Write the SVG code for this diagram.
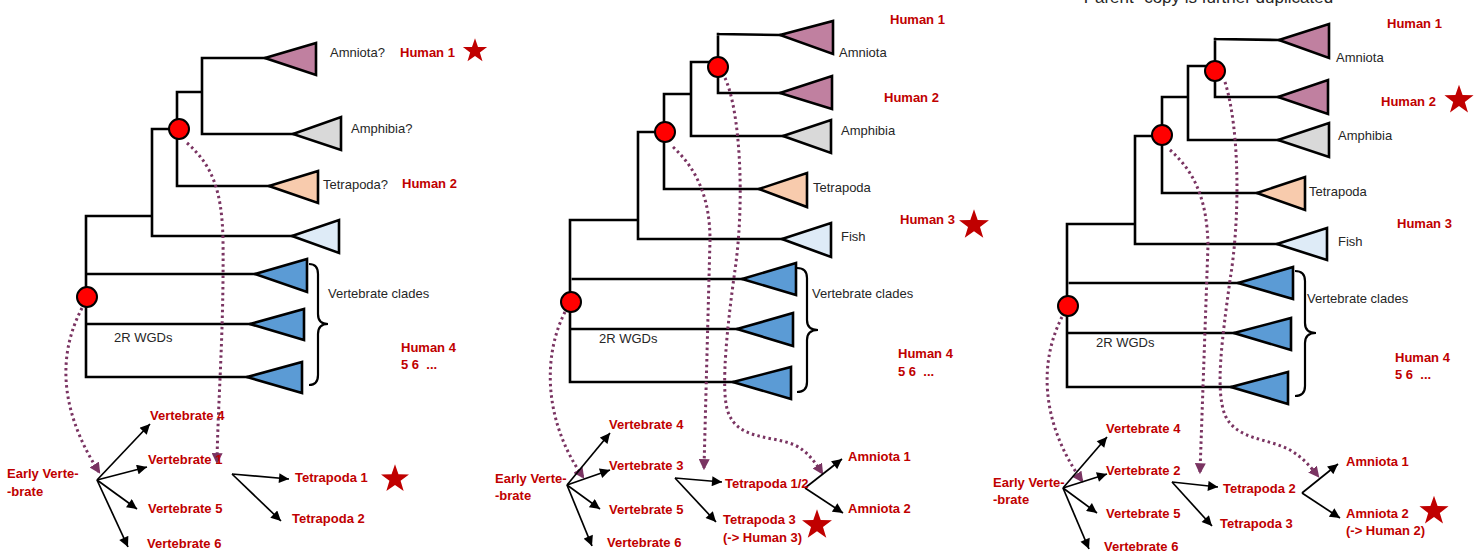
<svg xmlns="http://www.w3.org/2000/svg" width="1484" height="552" viewBox="0 0 1484 552">
<style>
.br{fill:none;stroke:#000;stroke-width:2.6;stroke-linecap:square}
.tri{stroke:#000;stroke-width:2.6;stroke-linejoin:miter}
.pk{fill:#c080a0}.gy{fill:#d9d9d9}.pc{fill:#f8cbad}.lb{fill:#deebf7}.bl{fill:#5b9bd5}
.dup{fill:#ff0000;stroke:#000;stroke-width:2}
.lbl{font-family:"Liberation Sans",Arial,sans-serif;font-size:13px;fill:#262626}
.red{font-family:"Liberation Sans",Arial,sans-serif;font-size:13px;font-weight:bold;fill:#c00000;white-space:pre}
.ttl{font-family:"Liberation Sans",Arial,sans-serif;font-size:17px;fill:#262626}
.brace{fill:none;stroke:#000;stroke-width:2.2}
.dot{fill:none;stroke:#7a3462;stroke-width:3;stroke-dasharray:2.5 3.2;marker-end:url(#pa)}
.arr{fill:none;stroke:#000;stroke-width:1.7;marker-end:url(#ba)}
.star{fill:#c00000}
</style>
<defs>
<marker id="ba" viewBox="0 0 10 10" refX="10" refY="5" markerWidth="11" markerHeight="10" markerUnits="userSpaceOnUse" orient="auto"><path d="M0,0 L10,5 L0,10 z" fill="#000"/></marker>
<marker id="pa" viewBox="0 0 10 10" refX="8" refY="5" markerWidth="11" markerHeight="11" markerUnits="userSpaceOnUse" orient="auto"><path d="M0,0 L10,5 L0,10 z" fill="#7a3462"/></marker>
<path id="st" d="M0,-15 L3.53,-4.85 L14.27,-4.64 L5.71,1.85 L8.82,12.14 L0,6 L-8.82,12.14 L-5.71,1.85 L-14.27,-4.64 L-3.53,-4.85 z"/>
</defs>
<rect width="1484" height="552" fill="#fff"/>

<text class="ttl" x="1078" y="3">“Parent” copy is further duplicated</text>

<g id="connectors">
<!-- panel 1 tree -->
<path class="br" d="M86,216 L86,377 M86,216 L152,216 M88,274 L255,274 M86,324 L250,324 M86,377 L247,377 M152,129 L152,236 M152,129 L170,129 M152,236 L292,236 M177,92 L177,186 M177,92 L202,92 M177,186 L269,186 M202,58 L202,134 M202,58 L265,58 M202,134 L293,134"/>
<!-- panel 2 tree -->
<path class="br" d="M570,220 L570,382 M570,220 L638,220 M573,279 L742,279 M570,329 L737,329 M570,382 L733,382 M638,132 L638,239 M638,132 L656,132 M638,239 L782,239 M664,94 L664,189 M664,94 L691,94 M664,189 L759,189 M691,62 L691,136 M691,62 L710,62 M691,136 L783,136 M718,34 L718,93 M718,34 L780,35 M718,93 L780,93"/>
<!-- panel 3 tree -->
<path class="br" d="M1067,224 L1067,387 M1067,224 L1135,224 M1070,283 L1238,283 M1067,333 L1234,333 M1067,387 L1231,387 M1135,136 L1135,244 M1135,136 L1152,136 M1135,244 L1277,244 M1162,97 L1162,193 M1162,97 L1188,97 M1162,193 L1257,193 M1188,66 L1188,140 M1188,66 L1205,66 M1188,140 L1278,140 M1215,39 L1215,97 M1215,39 L1279,40 M1215,97 L1278,97"/>
<!-- braces -->
<path class="brace" d="M309,264 Q318,264 318,274 L318,314 Q318,324 328,324 Q318,324 318,334 L318,375 Q318,385 309,385"/>
<path class="brace" d="M797,268 Q807,268 807,278 L807,320 Q807,330 818,330 Q807,330 807,340 L807,382 Q807,392 797,392"/>
<path class="brace" d="M1295,271 Q1305,271 1305,281 L1305,323 Q1305,333 1316,333 Q1305,333 1305,343 L1305,386 Q1305,396 1295,396"/>
<!-- dotted duplication links -->
<path class="dot" d="M187,143 C212,165 222,190 223,240 C224,330 218,400 217,462"/>
<path class="dot" d="M82,308 C60,350 56,405 99,472"/>
<path class="dot" d="M565,312 C543,355 543,420 583,477"/>
<path class="dot" d="M673,147 C698,170 710,200 710,240 L704,468"/>
<path class="dot" d="M725,78 C740,110 745,200 735,270 C728,320 720,390 728,412 C738,440 770,435 795,445 C808,452 815,462 822,473"/>
<path class="dot" d="M1062,317 C1040,360 1039,420 1082,481"/>
<path class="dot" d="M1170,150 C1195,172 1207,200 1208,245 L1200,472"/>
<path class="dot" d="M1225,82 C1240,130 1240,220 1230,280 C1222,340 1215,390 1225,415 C1236,440 1268,438 1290,450 C1302,457 1310,466 1318,476"/>
<!-- panel 1 arrows -->
<path class="arr" d="M97,480 L150,424"/>
<path class="arr" d="M97,480 L147,467"/>
<path class="arr" d="M97,480 L137,509"/>
<path class="arr" d="M97,480 L128,547"/>
<path class="arr" d="M232,474 L289,479"/>
<path class="arr" d="M232,474 L281,521"/>
<!-- panel 2 arrows -->
<path class="arr" d="M567,485 L610,433"/>
<path class="arr" d="M567,485 L610,470"/>
<path class="arr" d="M567,485 L600,509"/>
<path class="arr" d="M567,485 L592,546"/>
<path class="arr" d="M675,478 L722,482"/>
<path class="arr" d="M675,478 L716,522"/>
<path class="arr" d="M805,488 L842,459"/>
<path class="arr" d="M805,488 L843,513"/>
<!-- panel 3 arrows -->
<path class="arr" d="M1063,488 L1107,437"/>
<path class="arr" d="M1063,488 L1107,474"/>
<path class="arr" d="M1063,488 L1097,513"/>
<path class="arr" d="M1063,488 L1089,549"/>
<path class="arr" d="M1172,482 L1218,487"/>
<path class="arr" d="M1172,482 L1212,526"/>
<path class="arr" d="M1302,493 L1338,464"/>
<path class="arr" d="M1302,493 L1340,518"/>
</g>

<!-- ===== Panel 1 nodes ===== -->
<g id="p1-amniota"><polygon class="tri pk" points="265,58 316,43 316,75"/><text class="lbl" x="330" y="57">Amniota?</text></g>
<g id="p1-amphibia"><polygon class="tri gy" points="293,134 341,117 341,150"/><text class="lbl" x="351" y="133">Amphibia?</text></g>
<g id="p1-tetrapoda"><polygon class="tri pc" points="269,186 318,171 318,203"/><text class="lbl" x="323" y="189">Tetrapoda?</text></g>
<g id="p1-fish"><polygon class="tri lb" points="292,236 339,220 339,253"/></g>
<g id="p1-vert1"><polygon class="tri bl" points="255,274 307,259 307,292"/></g>
<g id="p1-vert2"><polygon class="tri bl" points="250,324 304,309 304,340"/></g>
<g id="p1-vert3"><polygon class="tri bl" points="247,377 302,362 302,393"/></g>
<g id="p1-labels">
<text class="lbl" x="328" y="298">Vertebrate clades</text>
<text class="lbl" x="114" y="342">2R WGDs</text>
<text class="red" x="400" y="57">Human 1</text>
<use href="#st" class="star" transform="translate(475,51) scale(0.85)"/>
<text class="red" x="402" y="188">Human 2</text>
<text class="red" x="401" y="352">Human 4</text>
<text class="red" x="401" y="369">5 6  ...</text>
</g>
<g id="p1-dup-tetra"><circle class="dup" cx="179" cy="129" r="10"/></g>
<g id="p1-dup-2r"><circle class="dup" cx="87" cy="297" r="10"/></g>
<g id="p1-early"><text class="red" x="7" y="478">Early Verte-</text><text class="red" x="7" y="496">-brate</text></g>
<g id="p1-v4"><text class="red" x="150" y="420">Vertebrate 4</text></g>
<g id="p1-v1"><text class="red" x="148" y="464">Vertebrate 1</text></g>
<g id="p1-v5"><text class="red" x="148" y="513">Vertebrate 5</text></g>
<g id="p1-v6"><text class="red" x="147" y="548">Vertebrate 6</text></g>
<g id="p1-t1"><text class="red" x="295" y="482">Tetrapoda 1</text><use href="#st" class="star" transform="translate(395,479) scale(0.98)"/></g>
<g id="p1-t2"><text class="red" x="292" y="523">Tetrapoda 2</text></g>

<!-- ===== Panel 2 nodes ===== -->
<g id="p2-amniota1"><polygon class="tri pk" points="780,35 833,21 833,54"/><text class="lbl" x="839" y="57">Amniota</text></g>
<g id="p2-amniota2"><polygon class="tri pk" points="780,93 832,76 832,109"/></g>
<g id="p2-amphibia"><polygon class="tri gy" points="783,136 831,120 831,153"/><text class="lbl" x="841" y="135">Amphibia</text></g>
<g id="p2-tetrapoda"><polygon class="tri pc" points="759,189 807,173 807,207"/><text class="lbl" x="813" y="192">Tetrapoda</text></g>
<g id="p2-fish"><polygon class="tri lb" points="782,239 831,223 831,257"/><text class="lbl" x="841" y="241">Fish</text></g>
<g id="p2-vert1"><polygon class="tri bl" points="742,279 796,263 796,295"/></g>
<g id="p2-vert2"><polygon class="tri bl" points="737,329 793,313 793,346"/></g>
<g id="p2-vert3"><polygon class="tri bl" points="733,382 791,367 791,399"/></g>
<g id="p2-labels">
<text class="lbl" x="812" y="298">Vertebrate clades</text>
<text class="lbl" x="599" y="343">2R WGDs</text>
<text class="red" x="890" y="24">Human 1</text>
<text class="red" x="884" y="102">Human 2</text>
<text class="red" x="900" y="224">Human 3</text>
<use href="#st" class="star" transform="translate(974,225) scale(1.05)"/>
<text class="red" x="898" y="358">Human 4</text>
<text class="red" x="898" y="376">5 6  ...</text>
</g>
<g id="p2-dup-tetra"><circle class="dup" cx="665" cy="132" r="10"/></g>
<g id="p2-dup-amniota"><circle class="dup" cx="718" cy="67" r="10"/></g>
<g id="p2-dup-2r"><circle class="dup" cx="571" cy="302" r="10"/></g>
<g id="p2-early"><text class="red" x="495" y="483">Early Verte-</text><text class="red" x="495" y="500">-brate</text></g>
<g id="p2-v4"><text class="red" x="609" y="429">Vertebrate 4</text></g>
<g id="p2-v3"><text class="red" x="609" y="470">Vertebrate 3</text></g>
<g id="p2-v5"><text class="red" x="609" y="514">Vertebrate 5</text></g>
<g id="p2-v6"><text class="red" x="607" y="547">Vertebrate 6</text></g>
<g id="p2-t12"><text class="red" x="725" y="488">Tetrapoda 1/2</text></g>
<g id="p2-t3"><text class="red" x="723" y="524">Tetrapoda 3</text><text class="red" x="723" y="542">(-&gt; Human 3)</text><use href="#st" class="star" transform="translate(817,525) scale(1.05)"/></g>
<g id="p2-a1"><text class="red" x="848" y="461">Amniota 1</text></g>
<g id="p2-a2"><text class="red" x="848" y="513">Amniota 2</text></g>

<!-- ===== Panel 3 nodes ===== -->
<g id="p3-amniota1"><polygon class="tri pk" points="1279,40 1329,24 1329,58"/><text class="lbl" x="1336" y="62">Amniota</text></g>
<g id="p3-amniota2"><polygon class="tri pk" points="1278,97 1328,80 1328,114"/></g>
<g id="p3-amphibia"><polygon class="tri gy" points="1278,140 1329,123 1329,157"/><text class="lbl" x="1338" y="140">Amphibia</text></g>
<g id="p3-tetrapoda"><polygon class="tri pc" points="1257,193 1305,177 1305,210"/><text class="lbl" x="1309" y="196">Tetrapoda</text></g>
<g id="p3-fish"><polygon class="tri lb" points="1277,244 1327,228 1327,260"/><text class="lbl" x="1338" y="246">Fish</text></g>
<g id="p3-vert1"><polygon class="tri bl" points="1238,283 1293,267 1293,299"/></g>
<g id="p3-vert2"><polygon class="tri bl" points="1234,333 1291,318 1291,350"/></g>
<g id="p3-vert3"><polygon class="tri bl" points="1231,387 1288,372 1288,404"/></g>
<g id="p3-labels">
<text class="lbl" x="1307" y="303">Vertebrate clades</text>
<text class="lbl" x="1096" y="347">2R WGDs</text>
<text class="red" x="1387" y="28">Human 1</text>
<text class="red" x="1381" y="106">Human 2</text>
<use href="#st" class="star" transform="translate(1459,100) scale(1.02)"/>
<text class="red" x="1397" y="228">Human 3</text>
<text class="red" x="1395" y="362">Human 4</text>
<text class="red" x="1395" y="379">5 6  ...</text>
</g>
<g id="p3-dup-tetra"><circle class="dup" cx="1162" cy="135" r="10"/></g>
<g id="p3-dup-amniota"><circle class="dup" cx="1215" cy="71" r="10"/></g>
<g id="p3-dup-2r"><circle class="dup" cx="1068" cy="306" r="10"/></g>
<g id="p3-early"><text class="red" x="993" y="487">Early Verte-</text><text class="red" x="993" y="504">-brate</text></g>
<g id="p3-v4"><text class="red" x="1106" y="433">Vertebrate 4</text></g>
<g id="p3-v2"><text class="red" x="1106" y="475">Vertebrate 2</text></g>
<g id="p3-v5"><text class="red" x="1106" y="518">Vertebrate 5</text></g>
<g id="p3-v6"><text class="red" x="1104" y="551">Vertebrate 6</text></g>
<g id="p3-t2"><text class="red" x="1223" y="493">Tetrapoda 2</text></g>
<g id="p3-t3"><text class="red" x="1220" y="528">Tetrapoda 3</text></g>
<g id="p3-a1"><text class="red" x="1346" y="466">Amniota 1</text></g>
<g id="p3-a2"><text class="red" x="1346" y="518">Amniota 2</text><text class="red" x="1346" y="535">(-&gt; Human 2)</text><use href="#st" class="star" transform="translate(1434,511) scale(1.02)"/></g>
</svg>
